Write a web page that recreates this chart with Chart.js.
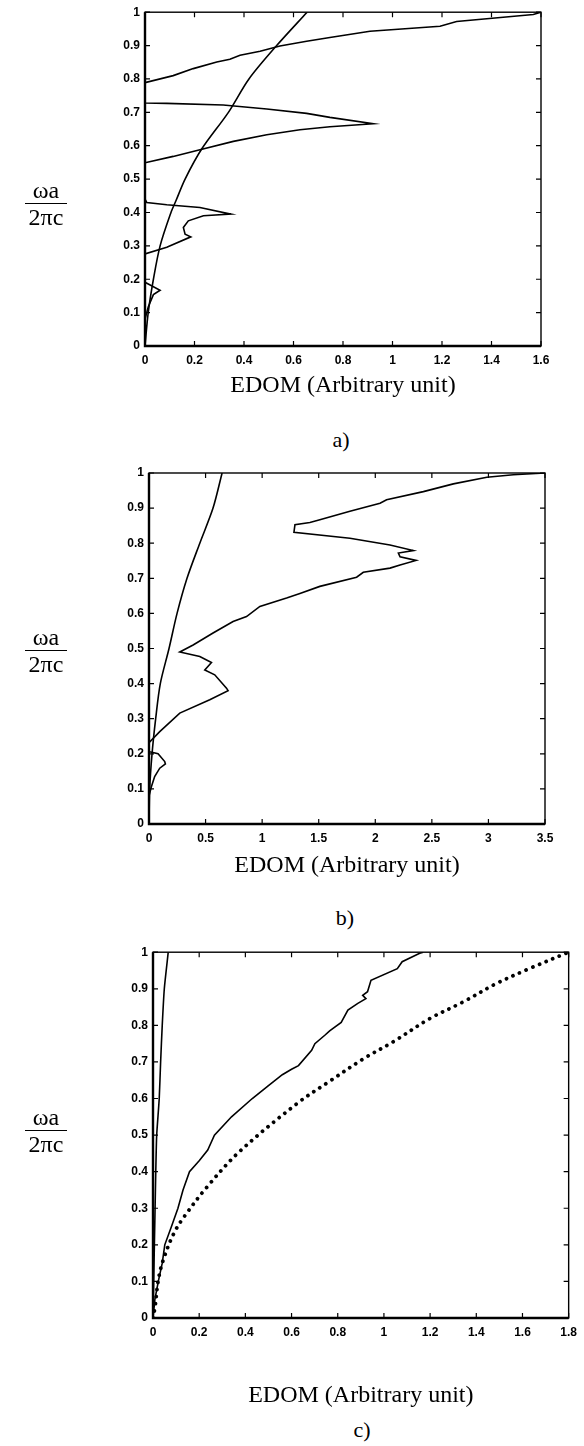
<!DOCTYPE html>
<html>
<head>
<meta charset="utf-8">
<script src="https://cdn.jsdelivr.net/npm/chart.js@4.4.0/dist/chart.umd.min.js"></script>
<style>
body { margin: 0; background: #fff; width: 584px; height: 1446px; position: relative; overflow: hidden; }
canvas { position: absolute; left: 0; }
.frac { position: absolute; left: 25px; width: 42px; text-align: center; font-family: 'Liberation Serif', serif; font-size: 24px; line-height: 26px; color: #000; }
.frac .num { border-bottom: 1.5px solid #000; }
.cap { position: absolute; font-family: 'Liberation Serif', serif; font-size: 22px; color: #000; transform: translate(-50%, -50%); }
</style>
</head>
<body>
<canvas id="chartA" width="584" height="410" style="top:0px"></canvas>
<canvas id="chartB" width="584" height="420" style="top:460px"></canvas>
<canvas id="chartC" width="584" height="470" style="top:940px"></canvas>

<div class="frac" style="top:177px"><div class="num">ωa</div><div>2πc</div></div>
<div class="frac" style="top:624px"><div class="num">ωa</div><div>2πc</div></div>
<div class="frac" style="top:1104px"><div class="num">ωa</div><div>2πc</div></div>

<div class="cap" style="left:341px; top:440px">a)</div>
<div class="cap" style="left:345px; top:918px">b)</div>
<div class="cap" style="left:362px; top:1430px">c)</div>

<script>
// tick labels
const yLabels = ['0', '0.1', '0.2', '0.3', '0.4', '0.5', '0.6', '0.7', '0.8', '0.9', '1'];
const aXLabels = ['0', '0.2', '0.4', '0.6', '0.8', '1', '1.2', '1.4', '1.6'];
const bXLabels = ['0', '0.5', '1', '1.5', '2', '2.5', '3', '3.5'];
const cXLabels = ['0', '0.2', '0.4', '0.6', '0.8', '1', '1.2', '1.4', '1.6', '1.8'];

// a) smooth curve
const aSmoothX = [0, 0.013, 0.034, 0.061, 0.105, 0.125, 0.162, 0.229, 0.337, 0.42, 0.532, 0.655];
const aSmoothY = [0, 0.1, 0.2, 0.3, 0.4, 0.435, 0.5, 0.59, 0.7, 0.8, 0.9, 1.0];
// a) EDOM curve
const aEdomX = [0, 0, 0.013, 0.034, 0.061, 0, 0, 0.088, 0.185, 0.162, 0.155, 0.175, 0.236, 0.347, 0.222, 0.088, 0.007, 0,
    0, 0.114, 0.222, 0.357, 0.492, 0.626, 0.747, 0.922, 0.747, 0.653, 0.492, 0.316, 0.088, 0,
    0, 0.114, 0.195, 0.29, 0.343, 0.384, 0.465, 0.545, 0.653, 0.747, 0.909, 1.192, 1.259, 1.569, 1.6];
const aEdomY = [0, 0.08, 0.117, 0.154, 0.167, 0.191, 0.276, 0.296, 0.327, 0.335, 0.355, 0.375, 0.39, 0.395, 0.415, 0.423, 0.43, 0.44,
    0.549, 0.568, 0.588, 0.613, 0.633, 0.648, 0.657, 0.666, 0.685, 0.697, 0.71, 0.722, 0.727, 0.728,
    0.789, 0.81, 0.831, 0.851, 0.859, 0.871, 0.883, 0.899, 0.913, 0.924, 0.943, 0.958, 0.972, 0.993, 1.0];

// b) smooth curve
const bSmoothX = [0, 0.006, 0.027, 0.059, 0.1, 0.177, 0.248, 0.336, 0.449, 0.566, 0.646];
const bSmoothY = [0, 0.1, 0.2, 0.3, 0.4, 0.5, 0.6, 0.7, 0.8, 0.9, 1.0];
// b) EDOM curve
const bEdomX = [0, 0, 0.021, 0.05, 0.095, 0.145, 0.139, 0.08, 0.006, 0, 0, 0.095, 0.272, 0.537, 0.699,
    0.685, 0.581, 0.493, 0.552, 0.449, 0.272, 0.39, 0.566, 0.743, 0.862, 0.98, 1.216, 1.334, 1.51, 1.835,
    1.894, 2.13, 2.219, 2.36, 2.219, 2.204, 2.336, 2.13, 1.776, 1.281, 1.29, 1.422, 1.51, 1.776, 2.042,
    2.1, 2.425, 2.69, 2.986, 3.22, 3.5];
const bEdomY = [0, 0.08, 0.106, 0.135, 0.159, 0.171, 0.178, 0.2, 0.206, 0.21, 0.232, 0.263, 0.316, 0.354, 0.38,
    0.387, 0.425, 0.439, 0.46, 0.477, 0.49, 0.51, 0.544, 0.577, 0.591, 0.62, 0.644, 0.657, 0.677, 0.703,
    0.717, 0.729, 0.738, 0.751, 0.761, 0.772, 0.779, 0.795, 0.814, 0.831, 0.853, 0.859, 0.867, 0.891, 0.914,
    0.924, 0.947, 0.969, 0.988, 0.995, 1.0];

// c) steep curve
const cSteepX = [0, 0.003, 0.006, 0.009, 0.012, 0.016, 0.027, 0.033, 0.04, 0.049, 0.066];
const cSteepY = [0, 0.1, 0.2, 0.3, 0.4, 0.5, 0.6, 0.7, 0.8, 0.9, 1.0];
// c) solid EDOM curve
const cSolidX = [0, 0.008, 0.023, 0.04, 0.051, 0.08, 0.108, 0.13, 0.158, 0.2, 0.237, 0.266, 0.34, 0.43, 0.5, 0.56,
    0.6, 0.63, 0.687, 0.701, 0.744, 0.765, 0.815, 0.844, 0.887, 0.922, 0.908, 0.929, 0.944, 1.058, 1.079, 1.155, 1.17];
const cSolidY = [0, 0.05, 0.1, 0.15, 0.2, 0.25, 0.3, 0.35, 0.4, 0.43, 0.459, 0.5, 0.55, 0.6, 0.635, 0.665,
    0.68, 0.69, 0.732, 0.75, 0.773, 0.785, 0.808, 0.842, 0.86, 0.873, 0.882, 0.892, 0.923, 0.955, 0.974, 0.997, 1.0];
// c) dotted curve
const cDotX = [0, 0.009, 0.023, 0.044, 0.09, 0.135, 0.235, 0.373, 0.625, 0.762, 0.915, 1.04, 1.2, 1.343, 1.486, 1.629, 1.8];
const cDotY = [0, 0.031, 0.104, 0.158, 0.231, 0.277, 0.359, 0.454, 0.587, 0.646, 0.71, 0.755, 0.819, 0.864, 0.914, 0.955, 1.0];

function pts(xs, ys) {
    return xs.map((x, i) => ({x: x, y: ys[i]}));
}

// box and inward ticks like the matlab frame
const frameTicks = {
    id: 'frameTicks',
    afterDraw(chart) {
        const ctx = chart.ctx;
        const a = chart.chartArea;
        const sx = chart.scales.x, sy = chart.scales.y;
        ctx.save();
        ctx.strokeStyle = '#000';
        ctx.lineWidth = 1.4;
        ctx.strokeRect(a.left, a.top, a.right - a.left, a.bottom - a.top);
        ctx.lineWidth = 1.2;
        ctx.beginPath();
        sx.ticks.forEach((t, i) => {
            const px = sx.getPixelForTick(i);
            ctx.moveTo(px, a.bottom); ctx.lineTo(px, a.bottom - 5);
            ctx.moveTo(px, a.top); ctx.lineTo(px, a.top + 5);
        });
        sy.ticks.forEach((t, i) => {
            const py = sy.getPixelForTick(i);
            ctx.moveTo(a.left, py); ctx.lineTo(a.left + 5, py);
            ctx.moveTo(a.right, py); ctx.lineTo(a.right - 5, py);
        });
        ctx.stroke();
        ctx.lineWidth = 2.4;
        ctx.beginPath();
        ctx.moveTo(a.left, a.top);
        ctx.lineTo(a.left, a.bottom);
        ctx.lineTo(a.right, a.bottom);
        ctx.stroke();
        ctx.restore();
    }
};

function solid(data, tension) {
    return {data: data, showLine: true, borderColor: '#000', borderWidth: 1.6, pointRadius: 0, tension: tension};
}

function makeChart(id, datasets, xMax, xStep, xLabels, g) {
    const tickFont = {family: 'Liberation Sans', size: 12, weight: 'bold'};
    return new Chart(document.getElementById(id), {
        type: 'scatter',
        data: {datasets: datasets},
        options: {
            responsive: false,
            animation: false,
            layout: {padding: {left: g.left - 45, right: 584 - g.right, top: g.top, bottom: g.bottom}},
            plugins: {legend: {display: false}, tooltip: {enabled: false}},
            scales: {
                x: {
                    type: 'linear', min: 0, max: xMax,
                    afterFit: s => { s.height = g.xh; },
                    grid: {display: false, drawTicks: false},
                    border: {display: false},
                    ticks: {stepSize: xStep, padding: 7, color: '#000', font: tickFont, maxRotation: 0, autoSkip: false,
                        callback: (v, i) => xLabels[i]},
                    title: {display: true, text: 'EDOM (Arbitrary unit)', color: '#000', padding: 0,
                        font: {family: 'Liberation Serif', size: 24}}
                },
                y: {
                    type: 'linear', min: 0, max: 1,
                    afterFit: s => { s.width = 45; },
                    grid: {display: false, drawTicks: false},
                    border: {display: false},
                    ticks: {stepSize: 0.1, padding: 5, color: '#000', font: tickFont, autoSkip: false,
                        callback: (v, i) => yLabels[i]}
                }
            }
        },
        plugins: [frameTicks]
    });
}

makeChart('chartA', [
    solid(pts(aSmoothX, aSmoothY), 0.3),
    solid(pts(aEdomX, aEdomY), 0)
], 1.6, 0.2, aXLabels, {left: 145, right: 541, top: 10, bottom: 10, xh: 54});

makeChart('chartB', [
    solid(pts(bSmoothX, bSmoothY), 0.3),
    solid(pts(bEdomX, bEdomY), 0)
], 3.5, 0.5, bXLabels, {left: 149, right: 545, top: 13, bottom: 0, xh: 56});

makeChart('chartC', [
    solid(pts(cSteepX, cSteepY), 0.2),
    solid(pts(cSolidX, cSolidY), 0),
    {data: pts(cDotX, cDotY), showLine: true, borderColor: '#000', borderWidth: 3.8, borderDash: [0.01, 7.2],
        borderCapStyle: 'round', pointRadius: 0, tension: 0.35}
], 1.8, 0.2, cXLabels, {left: 153, right: 573, top: 12, bottom: 0, xh: 92});
</script>
</body>
</html>
